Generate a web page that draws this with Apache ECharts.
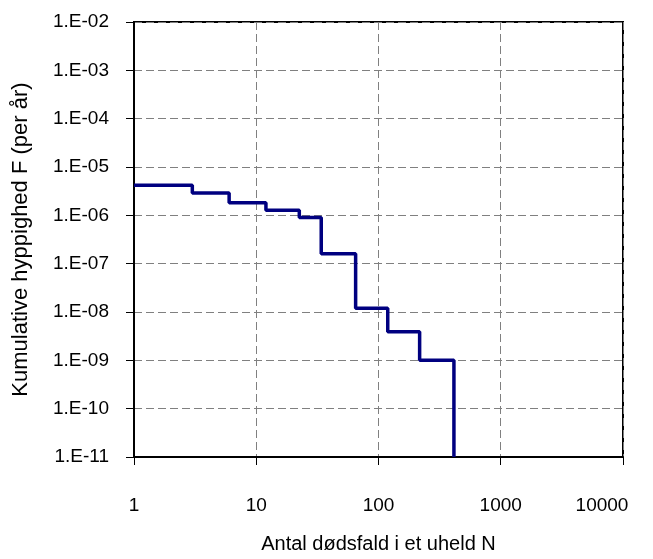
<!DOCTYPE html>
<html>
<head>
<meta charset="utf-8">
<script src="https://cdn.jsdelivr.net/npm/echarts@6/dist/echarts.min.js"></script>
<style>
  html, body { margin: 0; padding: 0; background: #fff; }
  #chart { width: 653px; height: 559px; }
</style>
</head>
<body>
<div id="chart"></div>
<script>
// step curve: number of fatalities N and cumulative frequency F
const deaths = [1, 3, 6, 12, 22.5, 34, 65, 119, 217, 414];
const freq = [4.2e-6, 2.9e-6, 1.83e-6, 1.28e-6, 9e-7, 1.6e-7, 1.2e-8, 3.9e-9, 1e-9, 1e-11];

const xLabels = ['1', '10', '100', '1000', '10000'];
const yLabels = ['1.E-02', '1.E-03', '1.E-04', '1.E-05', '1.E-06', '1.E-07', '1.E-08', '1.E-09', '1.E-10', '1.E-11'];

const font = 'Liberation Sans';
const labelStyle = { fontFamily: font, fontSize: 19, color: '#000' };
const chart = echarts.init(document.getElementById('chart'));

chart.setOption({
  backgroundColor: '#fff',
  animation: false,
  grid: {
    left: 134, top: 22, width: 489, height: 445,
    show: true, borderColor: '#000', borderWidth: 2
  },
  xAxis: {
    type: 'log', logBase: 10, min: 1, max: 10000, interval: 1,
    name: 'Antal dødsfald i et uheld N',
    nameLocation: 'middle', nameGap: 77,
    nameTextStyle: { fontFamily: font, fontSize: 20, color: '#000' },
    axisLine: { lineStyle: { color: '#000', width: 2 } },
    axisTick: { show: true, length: 8, lineStyle: { color: '#000' } },
    axisLabel: Object.assign({
      margin: 39,
      formatter: v => {
        const i = Math.round(Math.log10(v));
        // last label is pulled in a bit, like the original
        return i === xLabels.length - 1 ? '{last|' + xLabels[i] + '}' : xLabels[i];
      },
      rich: { last: Object.assign({ padding: [0, 42, 0, 0] }, labelStyle) }
    }, labelStyle),
    splitLine: { show: true, lineStyle: { color: '#808080', type: [8, 4], width: 1 } }
  },
  yAxis: {
    type: 'log', logBase: 10, min: 1e-11, max: 1e-2, interval: 1,
    name: 'Kumulative hyppighed F (per år)',
    nameLocation: 'middle', nameGap: 102,
    nameTextStyle: { fontFamily: font, fontSize: 22, color: '#000' },
    axisLine: { show: true, lineStyle: { color: '#000', width: 2 } },
    axisTick: { show: true, length: 8, lineStyle: { color: '#000' } },
    axisLabel: Object.assign({
      margin: 25,
      formatter: v => yLabels[-2 - Math.round(Math.log10(v))]
    }, labelStyle),
    splitLine: { show: true, lineStyle: { color: '#808080', type: [8, 4], width: 1 } }
  },
  series: [{
    type: 'line',
    step: 'end',
    data: deaths.map((n, i) => [n, freq[i]]),
    showSymbol: false,
    lineStyle: { color: '#000080', width: 3.5 }
  }]
});
</script>
</body>
</html>
